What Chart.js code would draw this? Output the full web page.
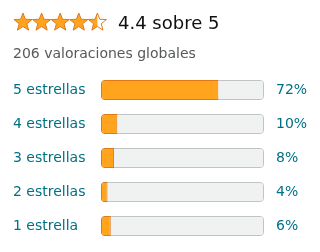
<!DOCTYPE html>
<html>
<head>
<meta charset="utf-8">
<script src="https://cdn.jsdelivr.net/npm/chart.js@4"></script>
<style>
  html, body { margin: 0; padding: 0; background: #fff; }
  #wrap { width: 320px; height: 252px; }
</style>
</head>
<body>
<div id="wrap"><canvas id="myChart" width="320" height="252"></canvas></div>
<script>
const rating = 4.4;
const totalText = "206 valoraciones globales";
const labels = ["5 estrellas", "4 estrellas", "3 estrellas", "2 estrellas", "1 estrella"];
const percents = [72, 10, 8, 4, 6];
const track = [100, 100, 100, 100, 100];
const pctLabels = percents.map(p => p + "%");

const font = "'DejaVu Sans', sans-serif";

// header: stars + "4.4 sobre 5" + total count
const header = {
    id: "header",
    afterDraw(chart) {
        const c = chart.ctx;
        const filled = Math.round(rating * 2) / 2;
        for (let i = 0; i < 5; i++) {
            const cx = 23 + i * 18.6, cy = 22.5;
            const path = new Path2D();
            for (let k = 0; k < 10; k++) {
                const r = k % 2 === 0 ? 9.5 : 4;
                const a = -Math.PI / 2 + k * Math.PI / 5;
                const px = cx + r * Math.cos(a), py = cy + r * Math.sin(a);
                if (k === 0) path.moveTo(px, py); else path.lineTo(px, py);
            }
            path.closePath();
            const f = Math.max(0, Math.min(1, filled - i));
            c.save();
            c.fillStyle = "#fff";
            c.fill(path);
            if (f > 0) {
                c.save();
                c.beginPath();
                c.rect(cx - 10, cy - 10, 20 * f, 20);
                c.clip();
                c.fillStyle = "#ffa41c";
                c.fill(path);
                c.restore();
            }
            c.lineWidth = 1;
            c.strokeStyle = "#de7921";
            c.stroke(path);
            c.restore();
        }
        c.save();
        c.fillStyle = "#0f1111";
        c.font = "18px " + font;
        c.textBaseline = "alphabetic";
        c.fillText(rating + " sobre 5", 118, 29);
        c.fillStyle = "#565959";
        c.font = "14px " + font;
        c.fillText(totalText, 13, 58);
        c.restore();
    }
};

const ctx = document.getElementById("myChart").getContext("2d");

const config = {
    type: "bar",
    data: {
        labels,
        datasets: [{
            data: percents,
            backgroundColor: "#ffa41c",
            borderColor: "#e47911",
            borderWidth: 1,
            borderRadius: { topLeft: 4, bottomLeft: 4, topRight: 0, bottomRight: 0 },
            borderSkipped: false,
            barPercentage: 20 / 34,
            categoryPercentage: 1,
            grouped: false
        }, {
            data: track,
            backgroundColor: "#f0f2f2",
            borderColor: "#c0c4c4",
            borderWidth: 1,
            borderRadius: 4,
            borderSkipped: false,
            barPercentage: 20 / 34,
            categoryPercentage: 1,
            grouped: false
        }]
    },
    options: {
        indexAxis: "y",
        responsive: false,
        animation: false,
        layout: { padding: { top: 73, bottom: 9, left: 13, right: 0 } },
        plugins: { legend: { display: false }, tooltip: { enabled: false } },
        scales: {
            x: { display: false, min: 0, max: 100 },
            y: {
                position: "left",
                grid: { display: false, drawTicks: false },
                border: { display: false },
                ticks: { color: "#007185", font: { family: font, size: 14 }, crossAlign: "far", padding: 0 },
                afterFit(s) { s.width = 88; }
            },
            y2: {
                type: "category",
                labels: pctLabels,
                position: "right",
                offset: true,
                grid: { display: false, drawTicks: true, tickLength: 12 },
                border: { display: false },
                ticks: { color: "#007185", font: { family: font, size: 14 }, padding: 0 },
                afterFit(s) { s.width = 56; }
            }
        }
    },
    plugins: [header]
};

const myChart = new Chart(ctx, config);
</script>
</body>
</html>
